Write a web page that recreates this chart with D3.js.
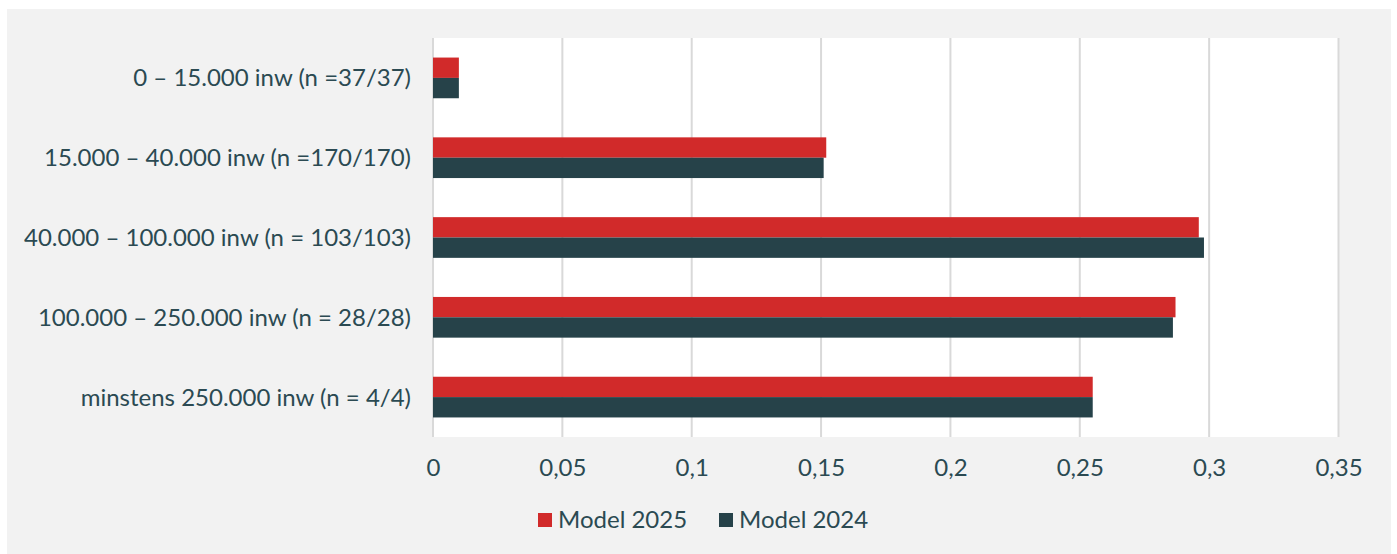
<!DOCTYPE html>
<html><head><meta charset="utf-8">
<script src="https://cdn.jsdelivr.net/npm/d3@7"></script>
<style>
html,body{margin:0;padding:0;background:#fff;}
text{font-family:Lato,sans-serif;fill:#2b4a52;font-weight:400;}
</style></head>
<body><svg id="chart" width="1397" height="554"></svg>
<script>
const categories = ["0 – 15.000 inw (n =37/37)","15.000 – 40.000 inw (n =170/170)","40.000 – 100.000 inw (n = 103/103)","100.000 – 250.000 inw (n = 28/28)","minstens 250.000 inw (n = 4/4)"];
const seriesNames = ["Model 2025","Model 2024"];
const model2025 = [0.010,0.152,0.296,0.287,0.255];
const model2024 = [0.010,0.151,0.298,0.286,0.255];
const tickValues = [0,0.05,0.1,0.15,0.2,0.25,0.3,0.35];
const colors = ["#d12a2a","#264249"];
const FS = 24;

const svg = d3.select("#chart");
svg.append("rect").attr("x",7).attr("y",9).attr("width",1384).attr("height",545).attr("fill","#f2f2f2");

const x0=433, x1=1338.5, yTop=38, yBot=437;
const x = d3.scaleLinear().domain([0,0.35]).range([x0,x1]);
const y = d3.scaleBand().domain(categories).range([yTop,yBot]).paddingInner(0.49).paddingOuter(0.245);
const sub = d3.scaleBand().domain(seriesNames).range([0,y.bandwidth()]);

svg.append("rect").attr("x",x0).attr("y",yTop).attr("width",x1-x0).attr("height",yBot-yTop).attr("fill","#fff");

svg.append("g").selectAll("line").data(tickValues).join("line")
  .attr("x1",d=>x(d)).attr("x2",d=>x(d)).attr("y1",yTop).attr("y2",yBot)
  .attr("stroke","#d9d9d9").attr("stroke-width",2);

const data = categories.map((c,i)=>({c, vals:[model2025[i],model2024[i]]}));
const g = svg.append("g").selectAll("g").data(data).join("g")
  .attr("transform",d=>`translate(0,${y(d.c)})`);
g.selectAll("rect").data(d=>d.vals.map((v,j)=>({v,s:seriesNames[j],j}))).join("rect")
  .attr("x",x(0)).attr("y",d=>sub(d.s)).attr("height",sub.bandwidth())
  .attr("width",d=>x(d.v)-x(0)).attr("fill",d=>colors[d.j]);

const xAxis = d3.axisBottom(x).tickValues(tickValues).tickSize(0).tickPadding(0)
  .tickFormat(d=>String(d).replace(".",","));
const xa = svg.append("g").attr("transform",`translate(0,${yBot})`).call(xAxis);
xa.select(".domain").remove();
xa.selectAll("text").attr("y",31).attr("dy","0.35em").attr("font-size",FS).style("font-family","Lato,sans-serif").style("fill","#2b4a52");

const yAxis = d3.axisLeft(y).tickSize(0).tickPadding(22);
const ya = svg.append("g").attr("transform",`translate(${x0},0)`).call(yAxis);
ya.select(".domain").remove();
ya.selectAll("text").attr("font-size",FS).attr("dy","0.35em").style("font-family","Lato,sans-serif").style("fill","#2b4a52");

const legX=[538,719];
const lg = svg.append("g").selectAll("g").data(seriesNames).join("g")
  .attr("transform",(d,i)=>`translate(${legX[i]},513)`);
lg.append("rect").attr("width",14).attr("height",14).attr("fill",(d,i)=>colors[i]);
lg.append("text").attr("x",20).attr("y",7).attr("dy","0.35em").attr("font-size",FS).text(d=>d);
</script></body></html>
